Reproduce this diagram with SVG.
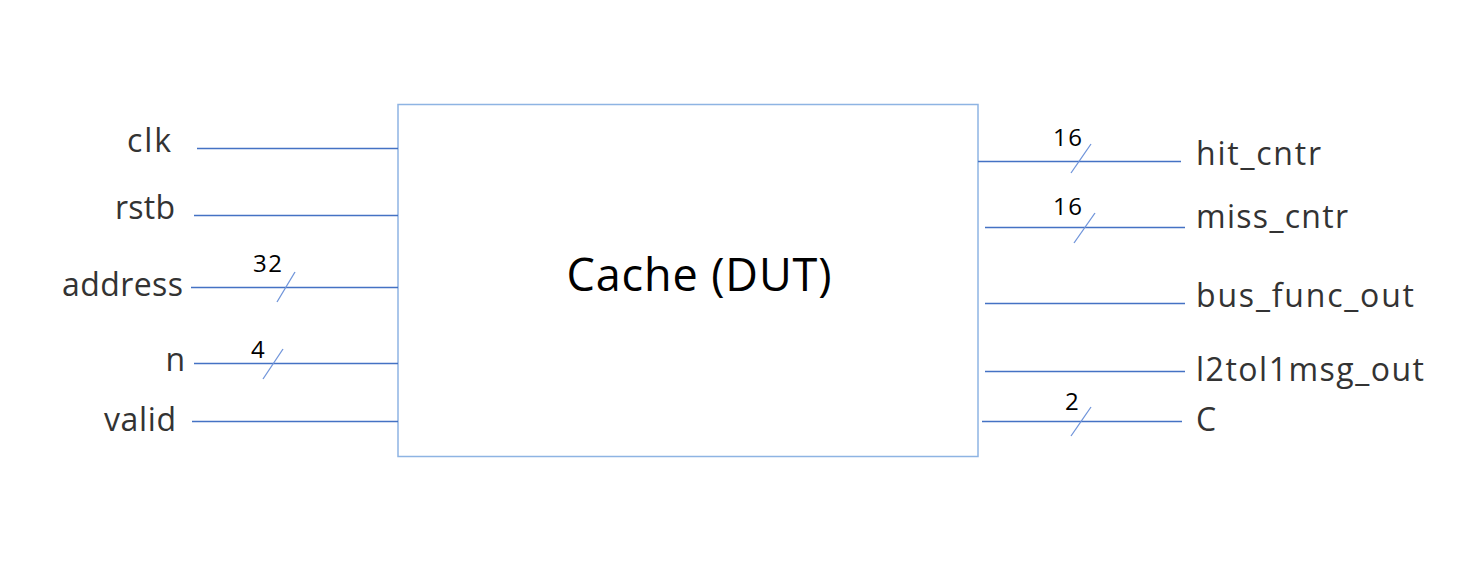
<svg xmlns="http://www.w3.org/2000/svg" width="1477" height="586" viewBox="0 0 1477 586">
<style>
.lbl{font-family:"Open Sans","Noto Sans",sans-serif;font-size:32px;fill:#333}
.num{font-family:"Open Sans","Noto Sans",sans-serif;font-size:24px;fill:#000}
.w{stroke:#4472C4;stroke-width:1.3;fill:none}
.s{stroke:#6F94DA;stroke-width:1.3;fill:none}
</style>
<rect width="1477" height="586" fill="#fff"/>
<g id="cache">
<rect x="398" y="104.5" width="580" height="352" fill="#fff" stroke="#8EB4E3" stroke-width="1.5"/>
<text x="699" y="291" text-anchor="middle" font-family="Open Sans,Noto Sans,sans-serif" font-size="45" fill="#000" textLength="265">Cache (DUT)</text>
</g>
<g id="connectors">
<line class="w" x1="197" y1="148.5" x2="398" y2="148.5"/>
<line class="w" x1="194" y1="215.5" x2="398" y2="215.5"/>
<line class="w" x1="191" y1="287.5" x2="398" y2="287.5"/>
<line class="s" x1="295" y1="272" x2="277" y2="302"/>
<line class="w" x1="194" y1="363.5" x2="398" y2="363.5"/>
<line class="s" x1="283" y1="349" x2="263" y2="379"/>
<line class="w" x1="192" y1="421.5" x2="398" y2="421.5"/>
<line class="w" x1="978" y1="161.5" x2="1181" y2="161.5"/>
<line class="s" x1="1091" y1="144" x2="1071" y2="173"/>
<line class="w" x1="985" y1="227.5" x2="1185" y2="227.5"/>
<line class="s" x1="1095" y1="213" x2="1074" y2="243"/>
<line class="w" x1="985" y1="303.5" x2="1185" y2="303.5"/>
<line class="w" x1="985" y1="371.5" x2="1185" y2="371.5"/>
<line class="w" x1="982" y1="421.5" x2="1182" y2="421.5"/>
<line class="s" x1="1091" y1="407" x2="1071" y2="436"/>
</g>
<g id="in-clk"><text class="lbl" x="171" y="152" text-anchor="end" textLength="44">clk</text></g>
<g id="in-rstb"><text class="lbl" x="175" y="219" text-anchor="end" textLength="60">rstb</text></g>
<g id="in-address"><text class="lbl" x="183" y="296" text-anchor="end" textLength="121">address</text><text class="num" x="253" y="272" textLength="29">32</text></g>
<g id="in-n"><text class="lbl" x="185" y="371" text-anchor="end" textLength="19">n</text><text class="num" x="251" y="358">4</text></g>
<g id="in-valid"><text class="lbl" x="176" y="431" text-anchor="end" textLength="72">valid</text></g>
<g id="out-hit"><text class="lbl" x="1196" y="165" textLength="125">hit_cntr</text><text class="num" x="1053" y="146" textLength="29">16</text></g>
<g id="out-miss"><text class="lbl" x="1196" y="228" textLength="152">miss_cntr</text><text class="num" x="1053" y="215" textLength="29">16</text></g>
<g id="out-bus"><text class="lbl" x="1196" y="307" textLength="218">bus_func_out</text></g>
<g id="out-l2"><text class="lbl" x="1196" y="381" textLength="228">l2tol1msg_out</text></g>
<g id="out-c"><text class="lbl" x="1196" y="431">C</text><text class="num" x="1065" y="410">2</text></g>
</svg>
